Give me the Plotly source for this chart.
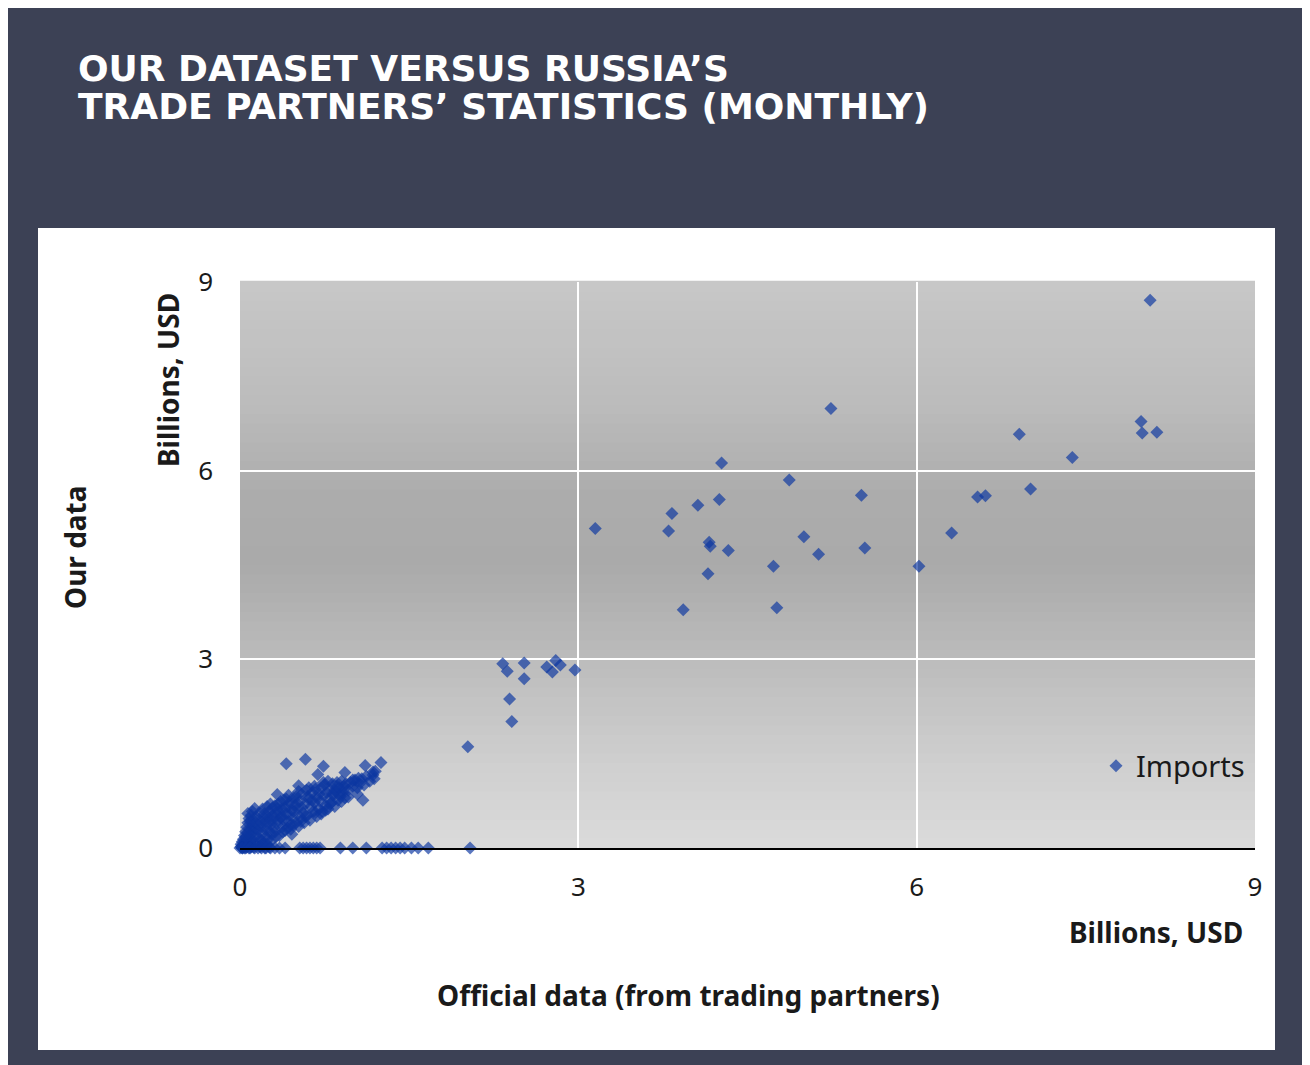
import plotly.graph_objects as go

# dense cluster near origin (Billions USD)
cluster_x = [
    0.00, 0.01, 0.01, 0.02, 0.02, 0.03, 0.03, 0.04, 0.04, 0.05, 0.05, 0.06, 0.06, 0.07, 0.07, 0.08, 0.08, 0.09, 0.09, 0.10,
    0.10, 0.11, 0.11, 0.12, 0.12, 0.13, 0.13, 0.14, 0.14, 0.15, 0.02, 0.04, 0.06, 0.08, 0.10, 0.12, 0.05, 0.07, 0.09, 0.11,
    0.16, 0.16, 0.17, 0.17, 0.18, 0.18, 0.19, 0.19, 0.20, 0.20, 0.21, 0.21, 0.22, 0.22, 0.23, 0.23, 0.24, 0.24, 0.25, 0.25,
    0.26, 0.26, 0.27, 0.27, 0.28, 0.28, 0.29, 0.29, 0.30, 0.30, 0.18, 0.22, 0.26, 0.20, 0.24, 0.28,
    0.31, 0.32, 0.33, 0.34, 0.35, 0.36, 0.37, 0.38, 0.39, 0.40, 0.41, 0.42, 0.43, 0.44, 0.45, 0.46, 0.47, 0.48, 0.49, 0.50,
    0.32, 0.34, 0.36, 0.38, 0.40, 0.42, 0.44, 0.46, 0.48, 0.50, 0.33, 0.37, 0.41, 0.45, 0.49, 0.35, 0.39, 0.43, 0.47, 0.31,
    0.51, 0.52, 0.53, 0.54, 0.55, 0.56, 0.57, 0.58, 0.59, 0.60, 0.61, 0.62, 0.63, 0.64, 0.65, 0.66, 0.67, 0.68, 0.69, 0.70,
    0.52, 0.55, 0.58, 0.61, 0.64, 0.67, 0.70, 0.54, 0.60, 0.66,
    0.71, 0.72, 0.73, 0.74, 0.75, 0.76, 0.77, 0.78, 0.79, 0.80, 0.81, 0.82, 0.83, 0.84, 0.85, 0.86, 0.87, 0.88, 0.89, 0.90,
    0.91, 0.92, 0.93, 0.94, 0.72, 0.76, 0.80, 0.84, 0.88, 0.92, 0.74, 0.78, 0.82, 0.86, 0.90,
    0.96, 0.98, 1.00, 1.02, 1.04, 1.06, 1.08, 1.10, 1.12, 1.15, 1.18, 1.20, 1.00, 1.04,
]
cluster_y = [
    0.00, 0.02, 0.06, 0.04, 0.10, 0.01, 0.14, 0.08, 0.20, 0.03, 0.26, 0.12, 0.33, 0.05, 0.40, 0.18, 0.47, 0.09, 0.30, 0.22,
    0.52, 0.13, 0.36, 0.27, 0.44, 0.07, 0.31, 0.19, 0.50, 0.38, 0.00, 0.00, 0.01, 0.00, 0.02, 0.01, 0.17, 0.24, 0.42, 0.58,
    0.10, 0.28, 0.45, 0.16, 0.34, 0.56, 0.12, 0.40, 0.24, 0.62, 0.08, 0.48, 0.30, 0.55, 0.18, 0.42, 0.36, 0.66, 0.14, 0.50,
    0.27, 0.58, 0.44, 0.70, 0.22, 0.38, 0.52, 0.64, 0.32, 0.47, 0.02, 0.00, 0.01, 0.05, 0.06, 0.12,
    0.25, 0.56, 0.38, 0.70, 0.20, 0.48, 0.62, 0.34, 0.76, 0.28, 0.54, 0.66, 0.42, 0.72, 0.36, 0.60, 0.80, 0.48, 0.68, 0.40,
    0.18, 0.44, 0.74, 0.26, 0.64, 0.32, 0.52, 0.22, 0.58, 0.82, 0.62, 0.50, 0.78, 0.30, 0.74, 0.57, 0.44, 0.84, 0.36, 0.67,
    0.62, 0.34, 0.74, 0.48, 0.86, 0.56, 0.40, 0.70, 0.92, 0.52, 0.78, 0.44, 0.66, 0.88, 0.58, 0.72, 0.94, 0.50, 0.80, 0.62,
    0.90, 0.64, 0.50, 0.96, 0.76, 0.56, 0.86, 0.42, 0.82, 0.98,
    0.74, 0.96, 0.58, 0.84, 1.00, 0.68, 0.88, 0.62, 0.78, 0.94, 0.72, 1.02, 0.84, 0.66, 0.90, 1.04, 0.76, 0.96, 0.82, 1.06,
    0.88, 0.98, 0.80, 1.02, 0.54, 0.60, 0.70, 0.92, 0.86, 0.94, 1.04, 1.06, 0.86, 0.98, 0.74,
    0.92, 1.04, 0.98, 1.08, 0.96, 1.02, 1.10, 1.00, 1.14, 1.06, 1.16, 1.22, 1.08, 0.86,
]

# scattered points around the cluster edge
edge_x = [0.41, 0.58, 0.74, 0.69, 0.52, 1.25, 1.11, 1.18, 1.19, 0.93, 1.05, 0.96, 1.09, 0.33, 0.07, 0.13]
edge_y = [1.34, 1.41, 1.30, 1.17, 0.99, 1.36, 1.31, 1.21, 1.10, 1.20, 1.11, 0.81, 0.76, 0.85, 0.55, 0.63]

# points where our data shows zero
zero_x = [0.02, 0.05, 0.09, 0.13, 0.16, 0.19, 0.23, 0.27, 0.31, 0.35, 0.40, 0.53, 0.56, 0.59, 0.62, 0.65,
          0.68, 0.71, 0.89, 1.00, 1.12, 1.26, 1.30, 1.34, 1.38, 1.42, 1.46, 1.52, 1.58, 1.67, 2.04]
zero_y = [0.0] * len(zero_x)

mid_x = [2.02, 2.39, 2.41, 2.33, 2.37, 2.52, 2.52, 2.72, 2.77, 2.80, 2.84, 2.97]
mid_y = [1.61, 2.37, 2.01, 2.93, 2.81, 2.94, 2.69, 2.88, 2.80, 2.98, 2.91, 2.83]

high_x = [3.15, 3.80, 3.83, 3.93, 4.06, 4.15, 4.16, 4.17, 4.25, 4.27, 4.33, 4.73, 4.76, 4.87, 5.00,
          5.13, 5.24, 5.51, 5.54, 6.02, 6.31, 6.54, 6.61, 6.91, 7.01, 7.38, 7.99, 8.00, 8.07, 8.13]
high_y = [5.08, 5.04, 5.32, 3.79, 5.45, 4.36, 4.86, 4.80, 5.54, 6.12, 4.73, 4.48, 3.82, 5.85, 4.95,
          4.67, 6.99, 5.61, 4.77, 4.48, 5.01, 5.58, 5.60, 6.58, 5.71, 6.21, 6.78, 6.60, 8.71, 6.61]

x_vals = cluster_x + edge_x + zero_x + mid_x + high_x
y_vals = cluster_y + edge_y + zero_y + mid_y + high_y

tick_vals = [0, 3, 6, 9]

# page geometry: pixel positions measured on the reference; the page body adds an 8px offset
OFF = 8
W, H = 1310 - OFF, 1065 - OFF
L, R, T, B = 240 - OFF, 1255 - OFF, 282 - OFF, 848 - OFF


def px_x(p):
    return (p - OFF - L) / (R - L)


def px_y(p):
    return (B - (p - OFF)) / (B - T)


fig = go.Figure()
fig.add_trace(go.Scatter(
    x=x_vals, y=y_vals, mode='markers', name='Imports',
    marker=dict(symbol='diamond', size=10, color='rgba(12,55,160,0.68)', line=dict(width=0)),
    cliponaxis=False,
))

shapes = []
# white panel
shapes.append(dict(type='rect', xref='paper', yref='paper', layer='below',
                   x0=px_x(38), x1=px_x(1275), y0=px_y(1050), y1=px_y(228),
                   fillcolor='white', line=dict(width=0)))

# vertical gray gradient in the plotting area
stops = [(0.0, 219), (0.15, 207), (0.35, 186), (0.5, 170), (0.62, 172), (0.8, 189), (1.0, 199)]
n = 60
for i in range(n):
    f = (i + 0.5) / n
    for (a, ca), (b, cb) in zip(stops[:-1], stops[1:]):
        if a <= f <= b:
            c = int(round(ca + (cb - ca) * (f - a) / (b - a)))
            break
    shapes.append(dict(type='rect', xref='x domain', yref='y domain', layer='below',
                       x0=0, x1=1, y0=i / n, y1=(i + 1) / n + 0.002,
                       fillcolor=f'rgb({c},{c},{c})', line=dict(width=0)))

txt = '#1a1a1a'
title_font = dict(family='DejaVu Sans', size=36, color='white', weight='bold')
lab_font = dict(family='Noto Sans', size=28, color=txt, weight='bold')
annotations = [
    dict(text='OUR DATASET VERSUS RUSSIA’S', xref='paper', yref='paper',
         x=px_x(76), y=px_y(68), xanchor='left', yanchor='middle', showarrow=False, font=title_font),
    dict(text='TRADE PARTNERS’ STATISTICS (MONTHLY)', xref='paper', yref='paper',
         x=px_x(76), y=px_y(106), xanchor='left', yanchor='middle', showarrow=False, font=title_font),
    dict(text='Our data', xref='paper', yref='paper', x=px_x(75), y=px_y(547),
         textangle=-90, showarrow=False, xanchor='center', yanchor='middle', font=lab_font),
    dict(text='Billions, USD', xref='paper', yref='paper', x=px_x(168), y=px_y(380),
         textangle=-90, showarrow=False, xanchor='center', yanchor='middle', font=lab_font),
    dict(text='Billions, USD', xref='paper', yref='paper', x=px_x(1156), y=px_y(932),
         showarrow=False, xanchor='center', yanchor='middle', font=lab_font),
    dict(text='Official data (from trading partners)', xref='paper', yref='paper',
         x=px_x(688), y=px_y(995), showarrow=False, xanchor='center', yanchor='middle', font=lab_font),
]

fig.update_layout(
    width=W, height=H,
    margin=dict(l=L, r=W - R, t=T, b=H - B, pad=0),
    paper_bgcolor='#3c4155',
    plot_bgcolor='#c0c0c0',
    shapes=shapes,
    annotations=annotations,
    showlegend=True,
    legend=dict(x=px_x(1250), xanchor='right', y=px_y(766), yanchor='middle',
                bgcolor='rgba(0,0,0,0)', font=dict(family='Noto Sans', size=29, color=txt),
                itemsizing='trace', itemwidth=30),
    xaxis=dict(range=[0, 9], tickvals=tick_vals, showgrid=True, gridcolor='white', gridwidth=2,
               zeroline=False, showline=True, linecolor='black', linewidth=2,
               ticks='', ticklabelstandoff=15,
               tickfont=dict(family='Noto Sans', size=26, color=txt), fixedrange=True),
    yaxis=dict(range=[0, 9], tickvals=tick_vals, showgrid=True, gridcolor='white', gridwidth=2,
               zeroline=False, showline=False, ticks='', ticklabelstandoff=26,
               tickfont=dict(family='Noto Sans', size=26, color=txt), fixedrange=True),
)

fig.write_html("out.html")
